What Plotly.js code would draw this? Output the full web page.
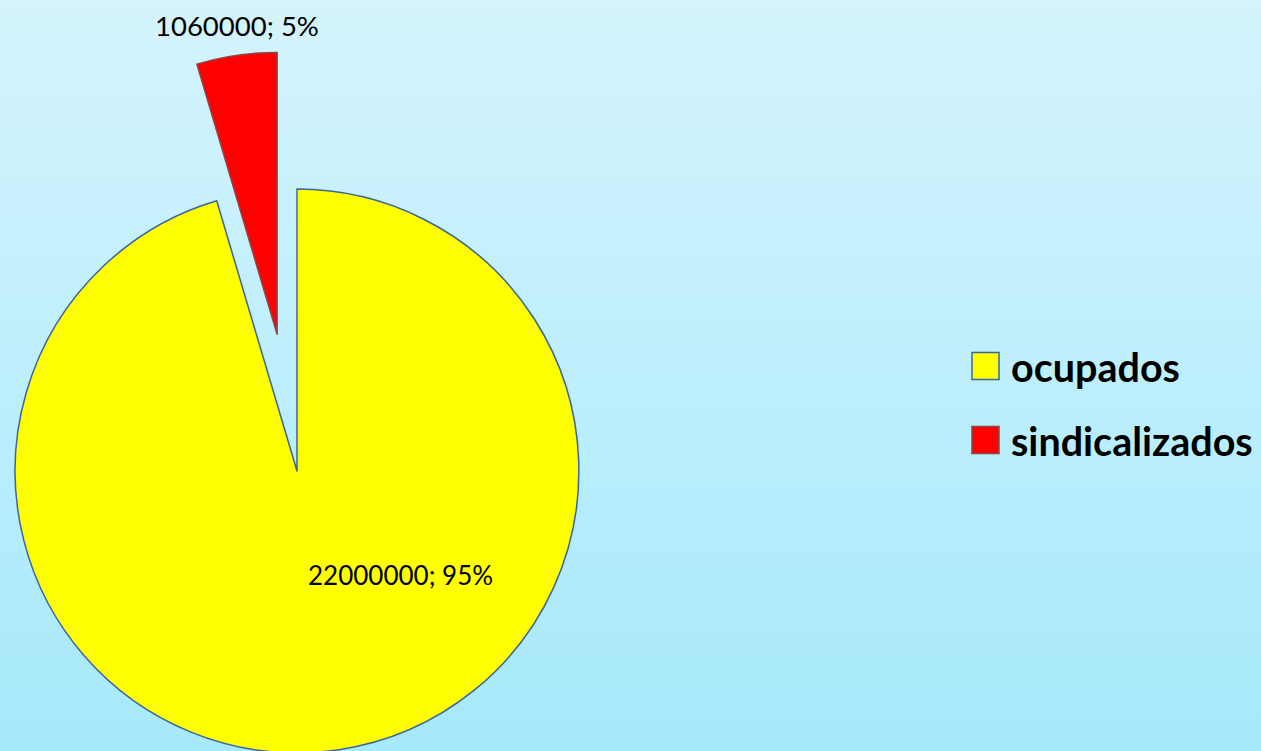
<!DOCTYPE html>
<html>
<head>
<meta charset="utf-8">
<script src="https://cdn.plot.ly/plotly-3.0.1.min.js"></script>
<style>
  html, body { margin:0; padding:0; width:1261px; height:751px; overflow:hidden;
    background: linear-gradient(to bottom, #d5f4fd 0%, #a6e9fb 100%); }
  #chart { position:absolute; left:-123px; top:0; width:1384px; height:900px; }
</style>
</head>
<body>
<div id="chart"></div>
<script>
// ---- data ----
const labels = ['ocupados', 'sindicalizados'];
const values = [22000000, 1060000];
const percentLabels = ['95%', '5%'];
const sliceColors = ['#ffff00', '#ff0000'];
const sliceLineColors = ['#3c64a0', '#8c4646'];
const pulls = [0, 0.49];

// ---- layout helpers (page pixel -> paper coords of the enlarged div) ----
const W = 1384, H = 900, OFFX = 123;
const px = x => (x + OFFX) / W;
const py = y => 1 - y / H;

const dataText = values.map((v, i) => v + '; ' + percentLabels[i]);

const trace = {
  type: 'pie',
  labels: labels,
  values: values,
  sort: false,
  direction: 'clockwise',
  rotation: 0,
  pull: pulls,
  marker: { colors: sliceColors, line: { color: sliceLineColors, width: 1.5 } },
  textinfo: 'none',
  domain: { x: [0, 840 / W], y: [1 - 891 / H, 1 - 51 / H] },
  hoverinfo: 'label+value+percent',
  showlegend: false
};

const shapes = [];
const annotations = [];
// custom legend
const legY = [366, 440];
labels.forEach((lab, i) => {
  const cy = legY[i];
  shapes.push({
    type: 'rect', xref: 'paper', yref: 'paper',
    x0: px(972), x1: px(999), y0: py(cy - 13.5), y1: py(cy + 13.5),
    fillcolor: sliceColors[i], line: { color: sliceLineColors[i], width: 1.5 }
  });
  annotations.push({
    xref: 'paper', yref: 'paper', x: px(1009), y: py(cy),
    xanchor: 'left', yanchor: 'middle', showarrow: false,
    text: '<b>' + lab + '</b>',
    font: { family: 'Lato, sans-serif', size: 39.5, color: '#000' }
  });
});
// data labels
const labelPos = [[400, 575, 26], [237, 26, 27.5]];
dataText.forEach((t, i) => {
  annotations.push({
    xref: 'paper', yref: 'paper', x: px(labelPos[i][0]), y: py(labelPos[i][1]),
    xanchor: 'center', yanchor: 'middle', showarrow: false,
    text: t,
    font: { family: 'Lato, sans-serif', size: labelPos[i][2], color: '#000' }
  });
});

const layout = {
  width: W, height: H,
  margin: { l: 0, r: 0, t: 0, b: 0 },
  paper_bgcolor: 'rgba(0,0,0,0)',
  plot_bgcolor: 'rgba(0,0,0,0)',
  showlegend: false,
  shapes: shapes,
  annotations: annotations
};

Plotly.newPlot('chart', [trace], layout, { displayModeBar: false, staticPlot: true });
</script>
</body>
</html>
